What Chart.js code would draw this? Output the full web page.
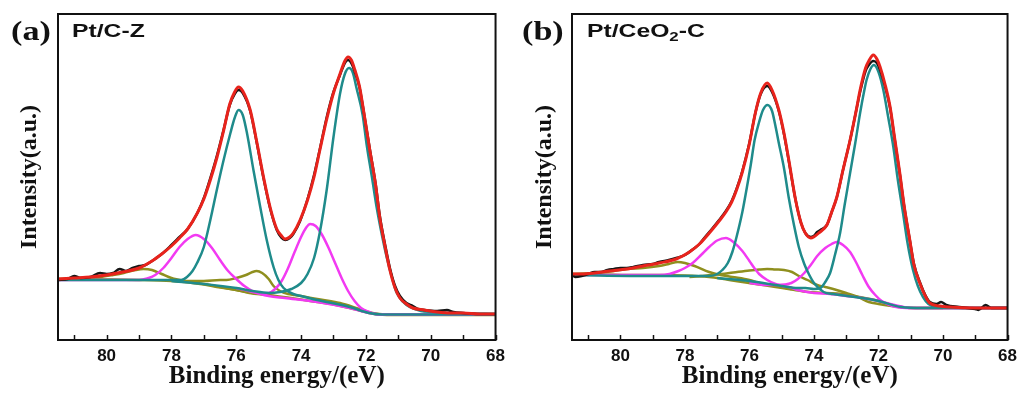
<!DOCTYPE html>
<html>
<head>
<meta charset="utf-8">
<script src="https://cdn.jsdelivr.net/npm/chart.js@4/dist/chart.umd.min.js"></script>
<style>
  html, body { margin: 0; padding: 0; background: #fff; }
  #wrap { position: relative; width: 1023px; height: 396px; overflow: hidden; }
  .panel { position: absolute; top: 0; height: 396px; }
  .tag { position: absolute; font: bold 28px "Liberation Serif", "Times New Roman", serif; line-height: 30px; transform: scaleX(1.22); transform-origin: left top; color: #111; }
  .name { position: absolute; font: bold 19px "Liberation Sans", Arial, sans-serif; line-height: 20px; transform: scaleX(1.3); transform-origin: left top; color: #111; }
  .name sub { font-size: 13px; vertical-align: -4px; line-height: 0; }
</style>
</head>
<body>
<div id="wrap">
  <div class="panel" style="left:0;width:511px"><canvas id="chartA" width="511" height="396"></canvas></div>
  <div class="panel" style="left:511px;width:512px"><canvas id="chartB" width="512" height="396"></canvas></div>
  <div class="tag" style="left:11px;top:16px">(a)</div>
  <div class="name" style="left:72px;top:21px">Pt/C-Z</div>
  <div class="tag" style="left:522px;top:16px">(b)</div>
  <div class="name" style="left:587px;top:21px">Pt/CeO<sub>2</sub>-C</div>
</div>
<script>
// x: binding energy (eV), y: intensity (a.u., arbitrary scale 0-326)
const xTicks = [81, 80, 79, 78, 77, 76, 75, 74, 73, 72, 71, 70, 69, 68];

// ---- panel (a) Pt/C-Z ----
const redA_eV = [81.5, 81.0, 80.5, 80.0, 79.5, 79.0, 78.6, 78.3, 78.0, 77.75, 77.5, 77.2, 77.0, 76.8, 76.6, 76.4, 76.2, 76.05, 75.93, 75.8, 75.57, 75.36, 75.16, 74.95, 74.75, 74.6, 74.49, 74.35, 74.24, 74.03, 73.8, 73.6, 73.42, 73.2, 73.0, 72.8, 72.65, 72.55, 72.45, 72.34, 72.2, 72.09, 71.88, 71.7, 71.57, 71.4, 71.26, 71.1, 70.95, 70.75, 70.55, 70.2, 69.8, 69.4, 69.0, 68.5, 68.0];
const redA_I = [61, 62, 63, 65, 68, 72, 79, 86, 94, 102, 111, 127, 141, 160, 182, 208, 236, 248, 253, 249, 230, 197, 163, 132, 111, 104, 101, 103, 107, 120, 140, 163, 190, 222, 247, 266, 279, 283, 280, 270, 254, 233, 190, 155, 122, 92, 70, 52, 42, 36, 32, 30, 28, 27, 27, 26, 26];

const rawA_eV = [81.5, 81.2, 81.0, 80.8, 80.5, 80.2, 80.0, 79.8, 79.6, 79.4, 79.2, 79.0, 78.8, 78.6, 78.3, 78.0, 77.75, 77.5, 77.2, 77.0, 76.8, 76.6, 76.4, 76.2, 76.05, 75.93, 75.8, 75.57, 75.36, 75.16, 74.95, 74.75, 74.6, 74.49, 74.35, 74.24, 74.03, 73.8, 73.6, 73.42, 73.2, 73.0, 72.8, 72.65, 72.55, 72.45, 72.34, 72.2, 72.09, 71.88, 71.7, 71.57, 71.4, 71.26, 71.1, 70.95, 70.75, 70.55, 70.4, 70.2, 69.8, 69.5, 69.3, 69.0, 68.5, 68.0];
const rawA_I = [60, 61, 64, 62, 63, 67, 66, 67, 71, 69, 72, 74, 75, 79, 86, 95, 103, 111, 127, 142, 162, 184, 209, 235, 246, 250, 247, 229, 196, 162, 131, 110, 102, 100, 102, 106, 119, 141, 165, 191, 224, 248, 265, 277, 280, 277, 268, 253, 233, 191, 156, 124, 94, 72, 54, 44, 37, 34, 31, 30, 29, 30, 28, 27, 26, 26];

const teal1A_eV = [81.5, 80.0, 79.0, 78.0, 77.7, 77.52, 77.35, 77.21, 77.0, 76.8, 76.6, 76.39, 76.18, 76.05, 75.93, 75.8, 75.67, 75.47, 75.26, 75.06, 74.85, 74.7, 74.54, 74.24, 74.0, 73.5, 72.5, 71.9, 71.5, 68.0];
const teal1A_I = [60, 60, 60, 60, 60, 63, 69, 77, 93, 120, 150, 180, 207, 222, 230, 225, 207, 170, 133, 100, 73, 60, 52, 46, 44, 40, 33, 27, 25.5, 25.5];

const teal2A_eV = [78.0, 77.0, 76.0, 75.5, 75.0, 74.65, 74.3, 74.0, 73.8, 73.6, 73.42, 73.21, 73.0, 72.8, 72.65, 72.52, 72.4, 72.29, 72.1, 71.98, 71.8, 71.67, 71.5, 71.36, 71.2, 71.06, 70.85, 70.65, 70.3, 70.0, 69.0, 68.0];
const teal2A_I = [59, 56, 52, 49, 47, 48, 51, 57, 66, 82, 108, 150, 203, 246, 266, 272, 267, 252, 225, 196, 160, 133, 104, 83, 63, 48, 38, 33, 29, 28, 26.5, 26];

const mag1A_eV = [81.5, 80.0, 79.0, 78.75, 78.5, 78.25, 78.0, 77.75, 77.5, 77.25, 77.0, 76.75, 76.5, 76.25, 76.0, 75.75, 75.5, 75.25, 75.0, 74.5, 73.5, 72.5, 71.9, 71.5, 68.0];
const mag1A_I = [60, 60, 60, 61.5, 65, 72, 82, 93, 101, 105, 101, 92, 80, 69, 61, 54, 49, 46, 44, 42, 38, 32, 27, 25.5, 25.5];

const mag2A_eV = [76.0, 75.5, 75.25, 75.0, 74.8, 74.6, 74.4, 74.2, 74.0, 73.85, 73.72, 73.55, 73.35, 73.15, 72.95, 72.75, 72.55, 72.35, 72.15, 71.9, 71.6, 68.0];
const mag2A_I = [52, 48, 46.5, 47, 51, 59, 72, 88, 103, 112, 116, 114, 105, 92, 77, 62, 49, 39, 32, 28, 25.5, 25.5];

const olive1A_eV = [81.5, 80.7, 80.2, 79.8, 79.47, 79.1, 78.86, 78.6, 78.3, 78.0, 77.6, 77.0, 76.5, 76.0, 75.5, 75.0];
const olive1A_I = [61, 62, 63, 65, 67, 70, 71, 70, 66, 62, 59, 56, 53, 50, 47, 45];

const olive2A_eV = [77.6, 77.0, 76.5, 76.3, 76.0, 75.7, 75.5, 75.37, 75.2, 75.0, 74.85, 74.65, 74.4, 74.2, 73.5, 72.8, 72.2, 71.8, 71.4, 70.5];
const olive2A_I = [59, 59, 60, 60, 62, 65, 68, 69, 67, 61, 54, 49, 46, 45, 41, 37, 31, 27, 25.5, 25.5];

const baseA_eV = [81.5, 80.0, 79.0, 78.0, 77.6, 77.0, 76.6, 76.0, 75.6, 75.0, 74.55, 74.0, 73.5, 73.0, 72.5, 72.2, 71.9, 71.6, 71.0, 70.0, 68.0];
const baseA_I = [61, 60.5, 60, 59, 58, 55.5, 53, 50, 47, 45, 43, 40.5, 38, 35.5, 32, 29.5, 27, 25.5, 25, 25, 25];

// ---- panel (b) Pt/CeO2-C ----
const redB_eV = [81.5, 81.2, 80.8, 80.33, 79.8, 79.3, 78.8, 78.27, 77.86, 77.55, 77.35, 77.14, 76.94, 76.73, 76.55, 76.4, 76.22, 76.01, 75.81, 75.65, 75.45, 75.3, 75.09, 74.93, 74.78, 74.57, 74.4, 74.27, 74.1, 74.01, 73.85, 73.6, 73.45, 73.29, 73.1, 72.88, 72.7, 72.57, 72.4, 72.3, 72.16, 72.05, 71.95, 71.8, 71.64, 71.5, 71.34, 71.2, 71.03, 70.9, 70.72, 70.55, 70.41, 70.1, 69.8, 69.0, 68.0];
const redB_I = [66, 66, 67, 69, 71, 74, 77, 81, 88, 96, 103, 111, 119, 128, 138, 150, 168, 195, 228, 247, 257, 250, 230, 207, 180, 140, 117, 107, 102, 103, 107, 115, 128, 143, 170, 200, 228, 250, 272, 279, 285, 281, 273, 256, 233, 202, 167, 133, 100, 75, 57, 44, 37, 34, 33, 32, 32];

const rawB_eV = [81.5, 81.4, 81.2, 81.0, 80.8, 80.6, 80.4, 80.2, 80.0, 79.8, 79.6, 79.3, 79.0, 78.8, 78.5, 78.27, 78.0, 77.7, 77.55, 77.35, 77.14, 76.94, 76.73, 76.55, 76.4, 76.22, 76.01, 75.81, 75.65, 75.45, 75.3, 75.09, 74.93, 74.78, 74.57, 74.4, 74.27, 74.1, 74.01, 73.9, 73.8, 73.6, 73.45, 73.29, 73.1, 72.88, 72.7, 72.57, 72.4, 72.3, 72.16, 72.05, 71.95, 71.8, 71.64, 71.5, 71.34, 71.2, 71.03, 70.9, 70.72, 70.55, 70.41, 70.2, 70.06, 69.9, 69.5, 69.0, 68.9, 68.68, 68.5, 68.0];
const rawB_I = [65, 63, 64, 66, 68, 68, 70, 71, 72, 72, 73, 75, 76, 78, 80, 82, 85, 92, 96, 104, 112, 120, 129, 139, 151, 169, 196, 228, 246, 254, 248, 229, 206, 179, 140, 117, 107, 103, 104, 108, 110, 115, 128, 143, 170, 200, 228, 248, 269, 275, 279, 277, 270, 254, 232, 201, 166, 133, 100, 76, 58, 45, 38, 36, 38, 35, 33, 31, 30, 35, 32, 32];

const teal1B_eV = [81.5, 79.0, 78.0, 77.5, 77.25, 77.0, 76.84, 76.67, 76.53, 76.4, 76.22, 76.05, 75.96, 75.84, 75.7, 75.58, 75.44, 75.3, 75.2, 75.09, 74.93, 74.78, 74.62, 74.47, 74.3, 74.16, 74.0, 73.7, 73.4, 72.5, 72.0, 71.3, 70.6, 68.0];
const teal1B_I = [65, 64, 64, 64, 64, 66, 70, 77, 88, 103, 128, 158, 175, 200, 218, 230, 235, 229, 215, 197, 172, 142, 115, 93, 76, 66, 57, 48, 46, 42, 39, 33, 32, 32];

const teal2B_eV = [77.0, 76.0, 75.0, 74.5, 74.26, 74.0, 73.8, 73.65, 73.5, 73.35, 73.19, 73.05, 72.88, 72.72, 72.57, 72.45, 72.37, 72.25, 72.14, 72.0, 71.85, 71.7, 71.54, 71.4, 71.24, 71.1, 70.93, 70.78, 70.62, 70.45, 70.2, 69.0, 68.0];
const teal2B_I = [62, 59, 54, 52, 52, 51, 52, 58, 67, 85, 107, 135, 167, 197, 227, 248, 260, 271, 275, 268, 250, 223, 193, 160, 127, 97, 70, 54, 43, 36, 33, 32, 32];

const mag1B_eV = [81.5, 79.5, 78.8, 78.48, 78.2, 78.0, 77.76, 77.5, 77.25, 77.0, 76.73, 76.5, 76.22, 76.0, 75.85, 75.7, 75.45, 75.19, 74.98, 74.78, 74.5, 74.0, 73.5, 73.0, 72.5, 72.0, 71.5, 71.0, 68.0];
const mag1B_I = [65, 65, 65, 66, 69, 72, 77, 85, 93, 99.5, 102, 98, 89, 79, 72, 66, 60, 56, 54, 53, 50, 47, 46, 44, 42, 39, 35, 32, 32];

const mag2B_eV = [76.0, 75.5, 75.19, 74.9, 74.7, 74.5, 74.3, 74.1, 73.9, 73.65, 73.45, 73.3, 73.1, 72.88, 72.7, 72.5, 72.3, 72.1, 71.9, 71.65, 71.45, 71.0, 68.0];
const mag2B_I = [57, 55, 55, 55.5, 57, 61, 67, 75, 84, 92, 96, 98, 95, 88, 78, 65, 53, 45, 39, 35, 33, 32, 32];

const olive1B_eV = [81.5, 80.8, 80.2, 79.8, 79.3, 78.8, 78.5, 78.22, 78.0, 77.7, 77.25, 76.9, 76.53, 76.0, 75.7, 75.2, 74.7];
const olive1B_I = [66, 67, 69, 71, 72, 74, 76, 78, 77, 74, 68, 65, 63, 60, 57, 54, 51];

const olive2B_eV = [77.86, 77.5, 77.0, 76.5, 76.0, 75.7, 75.45, 75.2, 74.93, 74.68, 74.47, 74.2, 73.9, 73.65, 73.3, 73.0, 72.63, 72.3, 72.0, 71.6, 71.2, 70.8, 70.0];
const olive2B_I = [63, 64, 65.5, 67.5, 69.5, 70.5, 71, 70.5, 70, 68, 64, 60, 55, 53, 50, 47, 43, 38, 36, 34, 32.5, 32, 32];

const baseB_eV = [81.5, 80.5, 79.5, 78.79, 78.0, 77.25, 76.8, 76.22, 75.7, 75.19, 74.7, 74.16, 73.6, 73.14, 72.6, 72.11, 71.7, 71.29, 70.9, 70.57, 68.0];
const baseB_I = [66, 65.5, 65, 65, 64.5, 63, 61, 58, 55.5, 53, 50.5, 48, 47, 46, 43, 40, 36, 33, 32, 32, 32];

const RED = '#e8231c', BLACK = '#161616', TEAL = '#1f8b8b', MAGENTA = '#f23af2', OLIVE = '#8f8f1e';

function pts(ev, iv) {
    return ev.map((e, i) => ({ x: e, y: iv[i] }));
}

function series(label, ev, iv, color, width) {
    return {
        label: label,
        data: pts(ev, iv),
        borderColor: color,
        borderWidth: width,
        pointRadius: 0,
        fill: false,
        cubicInterpolationMode: 'monotone'
    };
}

// frame box + short inward ticks on the energy axis
const frameTicks = {
    id: 'frameTicks',
    afterDraw(chart) {
        const { ctx, chartArea: a, scales: { x } } = chart;
        ctx.save();
        ctx.strokeStyle = '#111';
        ctx.lineWidth = 1.5;
        x.ticks.forEach(t => {
            const px = Math.round(x.getPixelForValue(t.value)) + 0.5;
            ctx.beginPath();
            ctx.moveTo(px, a.bottom);
            ctx.lineTo(px, a.bottom - 5);
            ctx.stroke();
        });
        ctx.lineWidth = 2;
        ctx.strokeRect(a.left, a.top, a.right - a.left, a.bottom - a.top);
        ctx.restore();
    }
};

function makeChart(id, datasets, yWidth, padRight, yTitlePad) {
    const ctx = document.getElementById(id).getContext('2d');
    return new Chart(ctx, {
        type: 'line',
        data: { datasets: datasets },
        plugins: [frameTicks],
        options: {
            responsive: false,
            animation: false,
            layout: { padding: { top: 14, right: padRight, bottom: 0, left: 0 } },
            plugins: { legend: { display: false }, tooltip: { enabled: false } },
            scales: {
                x: {
                    type: 'linear',
                    reverse: true,
                    min: 68,
                    max: 81.5,
                    afterFit: s => { s.height = 56; },
                    afterBuildTicks: s => { s.ticks = xTicks.map(v => ({ value: v })); },
                    ticks: {
                        autoSkip: false,
                        maxRotation: 0,
                        padding: 6,
                        color: '#111',
                        font: { family: '"Liberation Sans", Arial, sans-serif', size: 17, weight: 'bold' },
                        callback: v => (v % 2 === 0 ? String(v) : '')
                    },
                    grid: { display: false, drawTicks: false },
                    border: { display: false },
                    title: {
                        display: true,
                        text: 'Binding energy/(eV)',
                        color: '#111',
                        padding: { top: 0, bottom: 4 },
                        font: { family: '"Liberation Serif", "Times New Roman", serif', size: 25, weight: 'bold' }
                    }
                },
                y: {
                    min: 0,
                    max: 326,
                    afterFit: s => { s.width = yWidth; },
                    ticks: { display: false },
                    grid: { display: false, drawTicks: false },
                    border: { display: false },
                    title: {
                        display: true,
                        text: 'Intensity(a.u.)',
                        color: '#111',
                        padding: { top: yTitlePad, bottom: 0 },
                        font: { family: '"Liberation Serif", "Times New Roman", serif', size: 24, weight: 'bold' }
                    }
                }
            }
        }
    });
}

makeChart('chartA', [
    series('Fit', redA_eV, redA_I, RED, 3),
    series('Raw', rawA_eV, rawA_I, BLACK, 2.5),
    series('Pt0 4f7/2', teal2A_eV, teal2A_I, TEAL, 2.5),
    series('Pt0 4f5/2', teal1A_eV, teal1A_I, TEAL, 2.5),
    series('Pt2+ 4f7/2', mag2A_eV, mag2A_I, MAGENTA, 2.5),
    series('Pt2+ 4f5/2', mag1A_eV, mag1A_I, MAGENTA, 2.5),
    series('Pt4+ 4f7/2', olive2A_eV, olive2A_I, OLIVE, 2.5),
    series('Pt4+ 4f5/2', olive1A_eV, olive1A_I, OLIVE, 2.5),
    series('Background', baseA_eV, baseA_I, OLIVE, 2.5)
], 58, 15, 15);

makeChart('chartB', [
    series('Fit', redB_eV, redB_I, RED, 3),
    series('Raw', rawB_eV, rawB_I, BLACK, 2.5),
    series('Pt0 4f7/2', teal2B_eV, teal2B_I, TEAL, 2.5),
    series('Pt0 4f5/2', teal1B_eV, teal1B_I, TEAL, 2.5),
    series('Pt2+ 4f7/2', mag2B_eV, mag2B_I, MAGENTA, 2.5),
    series('Pt2+ 4f5/2', mag1B_eV, mag1B_I, MAGENTA, 2.5),
    series('Pt4+ 4f7/2', olive2B_eV, olive2B_I, OLIVE, 2.5),
    series('Pt4+ 4f5/2', olive1B_eV, olive1B_I, OLIVE, 2.5),
    series('Background', baseB_eV, baseB_I, OLIVE, 2.5)
], 61, 13, 19);
</script>
</body>
</html>
